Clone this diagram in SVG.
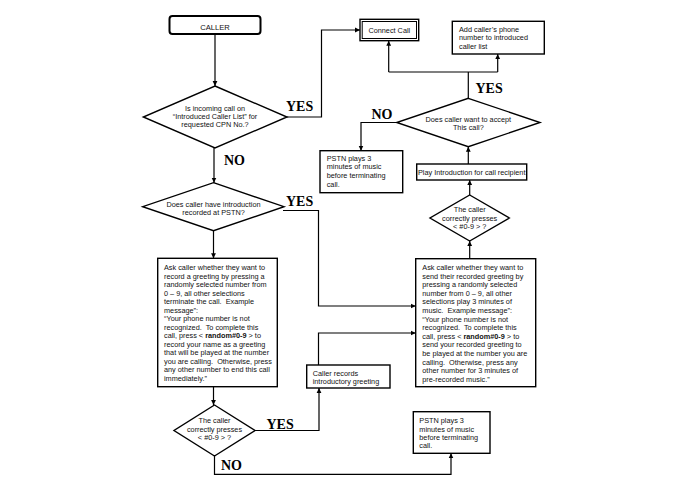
<svg xmlns="http://www.w3.org/2000/svg" width="695" height="494" viewBox="0 0 695 494">
<style>
.box{fill:#fff;stroke:#000;stroke-width:1.4}
.dia{fill:#fff;stroke:#000;stroke-width:1.4}
.ln{fill:none;stroke:#000;stroke-width:1.2}
.t{font-family:"Liberation Sans",Arial,sans-serif;font-size:7.3px;fill:#111}
.c{text-anchor:middle}
.lbl{font-family:"Liberation Serif","Times New Roman",serif;font-size:14px;font-weight:bold;fill:#000}
</style>
<defs>
<marker id="ah" markerWidth="6" markerHeight="6" refX="5" refY="3" orient="auto" markerUnits="userSpaceOnUse">
<path d="M0,0.6 L5,3 L0,5.4 Z" fill="#000"/>
</marker>
</defs>
<rect width="695" height="494" fill="#fff"/>

<g id="connectors">
<path class="ln" d="M215,34 V86" marker-end="url(#ah)"/>
<path class="ln" d="M287,117 H321.5 V30 H360" marker-end="url(#ah)"/>
<path class="ln" d="M214,148 V182.7" marker-end="url(#ah)"/>
<path class="ln" d="M213.5,230.7 V258.3" marker-end="url(#ah)"/>
<path class="ln" d="M283,210.5 H318.5 V306 H415.7" marker-end="url(#ah)"/>
<path class="ln" d="M318.5,365 V333 H415.7" marker-end="url(#ah)"/>
<path class="ln" d="M213.5,386.7 V405" marker-end="url(#ah)"/>
<path class="ln" d="M255,430.5 H319 V388" marker-end="url(#ah)"/>
<path class="ln" d="M214.5,456 V474.3 H451 V453.3" marker-end="url(#ah)"/>
<path class="ln" d="M469.7,258.7 V241" marker-end="url(#ah)"/>
<path class="ln" d="M469.7,195 V180" marker-end="url(#ah)"/>
<path class="ln" d="M468.3,164 V146.7" marker-end="url(#ah)"/>
<path class="ln" d="M396.7,122.5 H361 V150.7" marker-end="url(#ah)"/>
<path class="ln" d="M468.3,98.3 V72"/>
<path class="ln" d="M388.7,72 H497.7"/>
<path class="ln" d="M388.7,72 V40.7" marker-end="url(#ah)"/>
<path class="ln" d="M497.7,72 V54" marker-end="url(#ah)"/>
<text class="lbl" x="286" y="111">YES</text>
<text class="lbl" x="224" y="164.5">NO</text>
<text class="lbl" x="286" y="205.5">YES</text>
<text class="lbl" x="266.5" y="428.5">YES</text>
<text class="lbl" x="221" y="470">NO</text>
<text class="lbl" x="475.5" y="93">YES</text>
<text class="lbl" x="371.5" y="118.5">NO</text>
</g>

<g id="caller">
<rect x="169.5" y="16" width="91" height="18" rx="3" fill="#fff" stroke="#000" stroke-width="2"/>
<text class="t c" x="215" y="29.8" style="font-size:7.6px">CALLER</text>
</g>

<g id="q-introduced-list">
<polygon class="dia" points="215,86 287,117 215,148 143.3,117"/>
<text class="t c" x="215" y="111.3">Is incoming call on</text>
<text class="t c" x="215" y="119.3">“Introduced Caller List” for</text>
<text class="t c" x="215" y="127.3">requested CPN No.?</text>
</g>

<g id="connect-call">
<rect x="360" y="19.3" width="58.7" height="21.4" fill="#fff" stroke="#000" stroke-width="1.4"/>
<rect x="362.2" y="21.5" width="54.3" height="17" fill="none" stroke="#000" stroke-width="1"/>
<text class="t c" x="389.3" y="32.7">Connect Call</text>
</g>

<g id="add-caller">
<rect class="box" x="452.3" y="21.3" width="92" height="32.7"/>
<text class="t" x="459" y="32">Add caller’s phone</text>
<text class="t" x="459" y="40.4">number to introduced</text>
<text class="t" x="459" y="49.2">caller list</text>
</g>

<g id="q-accept">
<polygon class="dia" points="468.3,98.3 540,122.5 468.3,146.7 396.7,122.5"/>
<text class="t c" x="468.3" y="121.6">Does caller want to accept</text>
<text class="t c" x="468.3" y="130.3">This call?</text>
</g>

<g id="pstn-1">
<rect class="box" x="320" y="150.7" width="82.7" height="42"/>
<text class="t" x="326.7" y="161">PSTN plays 3</text>
<text class="t" x="326.7" y="169.4">minutes of music</text>
<text class="t" x="326.7" y="178.3">before terminating</text>
<text class="t" x="326.7" y="187">call.</text>
</g>

<g id="play-intro">
<rect class="box" x="416.7" y="164" width="110" height="16"/>
<text class="t c" x="471.7" y="174.6">Play Introduction for call recipient</text>
</g>

<g id="q-presses-right">
<polygon class="dia" points="469.7,195 509.3,218 469.7,241 430,218"/>
<text class="t c" x="469.7" y="212.3">The caller</text>
<text class="t c" x="469.7" y="220.5">correctly presses</text>
<text class="t c" x="469.7" y="228.7">&lt; #0-9 &gt; ?</text>
</g>

<g id="q-recorded">
<polygon class="dia" points="213.5,182.7 284,206.7 213.5,230.7 142.7,206.7"/>
<text class="t c" x="213.5" y="206.6">Does caller have introduction</text>
<text class="t c" x="213.5" y="214.9">recorded at PSTN?</text>
</g>

<g id="ask-record">
<rect class="box" x="157.7" y="258.3" width="119.6" height="128.4"/>
<text class="t" x="164" y="270">Ask caller whether they want to</text>
<text class="t" x="164" y="278.5">record a greeting by pressing a</text>
<text class="t" x="164" y="287">randomly selected number from</text>
<text class="t" x="164" y="295.5">0 – 9, all other selections</text>
<text class="t" x="164" y="304">terminate the call.&#160; Example</text>
<text class="t" x="164" y="312.5">message”:</text>
<text class="t" x="164" y="321">“Your phone number is not</text>
<text class="t" x="164" y="329.5">recognized.&#160; To complete this</text>
<text class="t" x="164" y="338">call, press &lt; <tspan font-weight="bold">random#0-9</tspan> &gt; to</text>
<text class="t" x="164" y="346.5">record your name as a greeting</text>
<text class="t" x="164" y="355">that will be played at the number</text>
<text class="t" x="164" y="363.5">you are calling.&#160; Otherwise, press</text>
<text class="t" x="164" y="372">any other number to end this call</text>
<text class="t" x="164" y="380.5">immediately.”</text>
</g>

<g id="ask-send">
<rect class="box" x="415.7" y="258.7" width="120" height="128"/>
<text class="t" x="422.3" y="270">Ask caller whether they want to</text>
<text class="t" x="422.3" y="278.6">send their recorded greeting by</text>
<text class="t" x="422.3" y="287.2">pressing a randomly selected</text>
<text class="t" x="422.3" y="295.8">number from 0 – 9, all other</text>
<text class="t" x="422.3" y="304.4">selections play 3 minutes of</text>
<text class="t" x="422.3" y="313">music.&#160; Example message”:</text>
<text class="t" x="422.3" y="321.6">“Your phone number is not</text>
<text class="t" x="422.3" y="330.2">recognized.&#160; To complete this</text>
<text class="t" x="422.3" y="338.8">call, press &lt; <tspan font-weight="bold">random#0-9</tspan> &gt; to</text>
<text class="t" x="422.3" y="347.4">send your recorded greeting to</text>
<text class="t" x="422.3" y="356">be played at the number you are</text>
<text class="t" x="422.3" y="364.6">calling.&#160; Otherwise, press any</text>
<text class="t" x="422.3" y="373.2">other number for 3 minutes of</text>
<text class="t" x="422.3" y="381.8">pre-recorded music.”</text>
</g>

<g id="caller-records">
<rect class="box" x="306.7" y="365" width="83.3" height="23"/>
<text class="t" x="312.7" y="375.9">Caller records</text>
<text class="t" x="312.7" y="384.3">introductory greeting</text>
</g>

<g id="q-presses-left">
<polygon class="dia" points="214.5,405 255,430.5 214.5,456 174,430.5"/>
<text class="t c" x="214.5" y="423.3">The caller</text>
<text class="t c" x="214.5" y="431.6">correctly presses</text>
<text class="t c" x="214.5" y="439.9">&lt; #0-9 &gt; ?</text>
</g>

<g id="pstn-2">
<rect class="box" x="413.3" y="411.7" width="76.7" height="41.6"/>
<text class="t" x="419.3" y="422.6">PSTN plays 3</text>
<text class="t" x="419.3" y="431.6">minutes of music</text>
<text class="t" x="419.3" y="440.3">before terminating</text>
<text class="t" x="419.3" y="448.3">call.</text>
</g>
</svg>
